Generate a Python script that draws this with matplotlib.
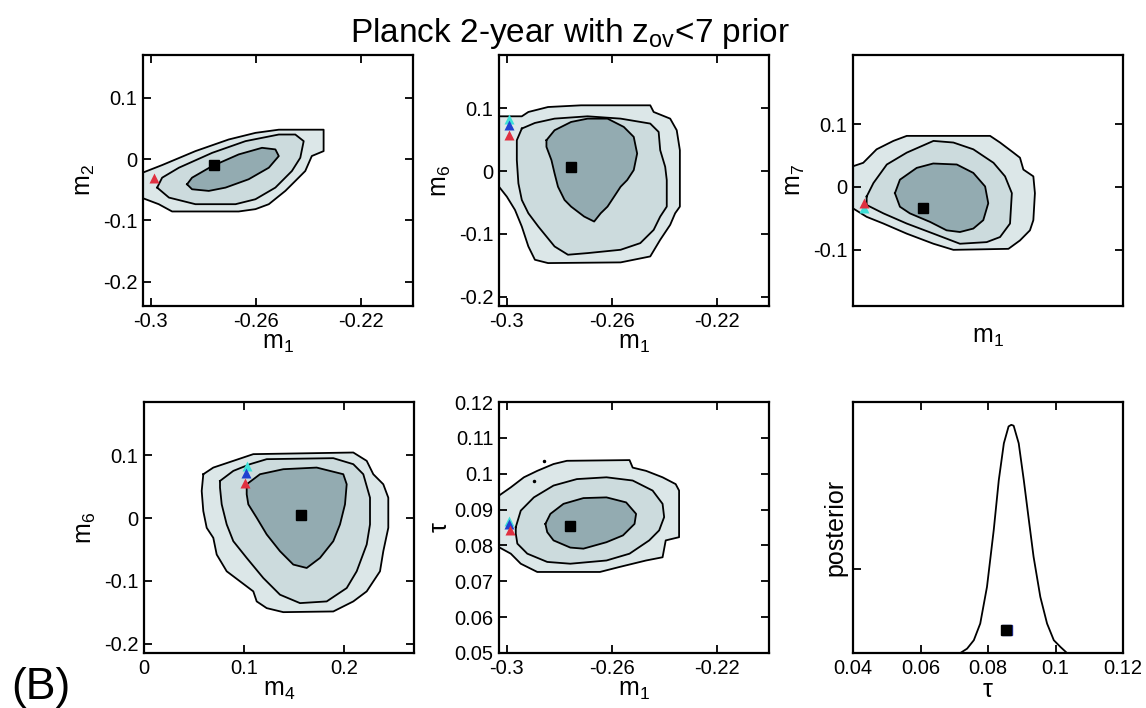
import numpy as np
import matplotlib
matplotlib.use('agg')
import matplotlib.pyplot as plt

plt.rcParams['font.family'] = ['Liberation Sans', 'DejaVu Sans']
plt.rcParams['mathtext.fontset'] = 'custom'
plt.rcParams['mathtext.rm'] = 'Liberation Sans'
plt.rcParams['xtick.labelsize'] = 14.5
plt.rcParams['ytick.labelsize'] = 14.5

# contour outlines (outer / middle / inner), x and y in data units
p1_outer = np.array([
    (-0.303, -0.022), (-0.2957, -0.0098), (-0.283, 0.013), (-0.2703, 0.032),
    (-0.2601, 0.0428), (-0.2512, 0.048), (-0.2341, 0.048), (-0.2341, 0.013),
    (-0.2386, 0.005), (-0.2411, -0.0195), (-0.2449, -0.0358), (-0.2487, -0.052),
    (-0.255, -0.0737), (-0.2601, -0.0818), (-0.2665, -0.0856), (-0.2919, -0.0856),
    (-0.297, -0.0737), (-0.303, -0.064)])
p1_mid = np.array([
    (-0.2976, -0.0466), (-0.2957, -0.0304), (-0.2893, -0.0141), (-0.2766, 0.0102),
    (-0.2639, 0.0293), (-0.2512, 0.0401), (-0.2449, 0.0401), (-0.2417, 0.0293),
    (-0.243, 0.0021), (-0.2462, -0.0195), (-0.2525, -0.0466), (-0.2601, -0.0656),
    (-0.2677, -0.0737), (-0.283, -0.0737), (-0.2931, -0.0629)])
p1_inner = np.array([
    (-0.2862, -0.0412), (-0.2843, -0.0304), (-0.2766, -0.0114), (-0.2665, 0.0076),
    (-0.2576, 0.0184), (-0.2525, 0.0158), (-0.2512, 0.0049), (-0.255, -0.0141),
    (-0.2627, -0.033), (-0.2715, -0.0466), (-0.2779, -0.052), (-0.2843, -0.0493)])

p2_outer = np.array([
    (-0.303, 0.0873), (-0.303, -0.0249), (-0.3, -0.0408), (-0.2969, -0.0619),
    (-0.2943, -0.0884), (-0.2918, -0.1201), (-0.2893, -0.1413), (-0.2843, -0.1466),
    (-0.2566, -0.1455), (-0.2453, -0.136), (-0.2415, -0.1095), (-0.2377, -0.0857),
    (-0.2358, -0.0672), (-0.234, -0.0566), (-0.234, 0.0333), (-0.2352, 0.0651),
    (-0.2377, 0.0836), (-0.244, 0.0942), (-0.2453, 0.1048), (-0.2717, 0.1048),
    (-0.2843, 0.1021), (-0.2918, 0.0942), (-0.2943, 0.0873)])
p2_mid = np.array([
    (-0.2943, 0.0678), (-0.2893, 0.0767), (-0.2818, 0.0836), (-0.2692, 0.0873),
    (-0.2566, 0.0836), (-0.2453, 0.0757), (-0.2421, 0.0624), (-0.2415, 0.0333),
    (-0.2396, 0.0068), (-0.239, -0.0143), (-0.239, -0.0566), (-0.2415, -0.0725),
    (-0.244, -0.0937), (-0.2491, -0.1148), (-0.2566, -0.1254), (-0.2692, -0.1307),
    (-0.2767, -0.1333), (-0.2818, -0.1201), (-0.288, -0.0884), (-0.2918, -0.0672),
    (-0.2943, -0.046), (-0.2956, -0.0196), (-0.2962, 0.0175), (-0.2962, 0.0492)])
p2_inner = np.array([
    (-0.2849, 0.0492), (-0.2818, 0.0651), (-0.2755, 0.0783), (-0.2692, 0.0836),
    (-0.2616, 0.0836), (-0.2554, 0.0704), (-0.2516, 0.0545), (-0.2503, 0.028),
    (-0.2516, 0.0016), (-0.2541, -0.0143), (-0.2566, -0.0249), (-0.2591, -0.0408),
    (-0.2616, -0.0566), (-0.2642, -0.0672), (-0.2667, -0.0804), (-0.2705, -0.0725),
    (-0.2755, -0.0566), (-0.278, -0.046), (-0.2805, -0.0249), (-0.2818, -0.0037),
    (-0.283, 0.0175), (-0.2849, 0.0386)])

p3_outer = np.array([
    (-0.303, 0.0327), (-0.2991, 0.0382), (-0.294, 0.0597), (-0.2876, 0.0731),
    (-0.2825, 0.0811), (-0.2507, 0.0811), (-0.2469, 0.0705), (-0.2418, 0.0544),
    (-0.2393, 0.0463), (-0.238, 0.0274), (-0.2342, 0.0166), (-0.2336, -0.0102),
    (-0.2342, -0.0532), (-0.2355, -0.0694), (-0.2393, -0.0855), (-0.2437, -0.0989),
    (-0.2647, -0.1005), (-0.2723, -0.0908), (-0.2825, -0.0747), (-0.2914, -0.0586),
    (-0.2978, -0.0479), (-0.303, -0.0344)])
p3_mid = np.array([
    (-0.2978, -0.0156), (-0.2952, 0.006), (-0.2901, 0.0355), (-0.2825, 0.0544),
    (-0.2723, 0.0731), (-0.2647, 0.0705), (-0.2571, 0.0597), (-0.2494, 0.0382),
    (-0.245, 0.0166), (-0.2424, -0.0102), (-0.2431, -0.0586), (-0.2469, -0.0801),
    (-0.252, -0.0882), (-0.2622, -0.0908), (-0.2723, -0.0747), (-0.2825, -0.0586),
    (-0.2914, -0.0424), (-0.2978, -0.029)])
p3_inner = np.array([
    (-0.287, -0.0102), (-0.2851, 0.0113), (-0.2787, 0.0301), (-0.2724, 0.0371),
    (-0.2634, 0.0355), (-0.2571, 0.0221), (-0.2526, 0.0005), (-0.2514, -0.0263),
    (-0.2533, -0.0532), (-0.2571, -0.0666), (-0.2622, -0.0721), (-0.2673, -0.0694),
    (-0.2736, -0.056), (-0.2813, -0.0424), (-0.2851, -0.0318)])

p4_outer = np.array([
    (0.0593, 0.0699), (0.0693, 0.0805), (0.0893, 0.0912), (0.1093, 0.1019),
    (0.2093, 0.1045), (0.2227, 0.0912), (0.2293, 0.0699), (0.2393, 0.0539),
    (0.2443, 0.0325), (0.2443, -0.0155), (0.2393, -0.0528), (0.236, -0.0848),
    (0.2227, -0.1168), (0.2093, -0.1328), (0.1893, -0.1488), (0.1393, -0.1499),
    (0.1227, -0.1435), (0.1127, -0.1328), (0.1093, -0.1168), (0.096, -0.1008),
    (0.0827, -0.0848), (0.0727, -0.0581), (0.0693, -0.0315), (0.0627, -0.0155),
    (0.0593, 0.0112), (0.0577, 0.0432)])
p4_mid = np.array([
    (0.076, 0.0592), (0.0893, 0.0752), (0.106, 0.0859), (0.1227, 0.0939),
    (0.1893, 0.0955), (0.2093, 0.0859), (0.2193, 0.0699), (0.226, 0.0325),
    (0.226, -0.0101), (0.2227, -0.0421), (0.2127, -0.0848), (0.2027, -0.1115),
    (0.1827, -0.1328), (0.156, -0.1355), (0.136, -0.1221), (0.1193, -0.0955),
    (0.1027, -0.0635), (0.0893, -0.0368), (0.0827, -0.0101), (0.0777, 0.0219),
    (0.076, 0.0485)])
p4_inner = np.array([
    (0.1027, 0.0539), (0.116, 0.0699), (0.1393, 0.0779), (0.1727, 0.0805),
    (0.1993, 0.0699), (0.2027, 0.0539), (0.201, 0.0219), (0.196, -0.0101),
    (0.1893, -0.0368), (0.176, -0.0635), (0.1627, -0.0795), (0.1493, -0.0741),
    (0.136, -0.0528), (0.1227, -0.0261), (0.1127, 0.0005), (0.1043, 0.0219),
    (0.1027, 0.0379)])

p5_outer = np.array([
    (-0.303, 0.0939), (-0.2985, 0.0962), (-0.2935, 0.099), (-0.2884, 0.1008),
    (-0.2822, 0.1027), (-0.2771, 0.1036), (-0.2532, 0.1038), (-0.252, 0.1017),
    (-0.2469, 0.1008), (-0.2406, 0.099), (-0.2356, 0.0971), (-0.2343, 0.0953),
    (-0.2343, 0.0823), (-0.2394, 0.0814), (-0.2406, 0.0767), (-0.2469, 0.0758),
    (-0.257, 0.074), (-0.2645, 0.0726), (-0.2884, 0.0726), (-0.2947, 0.0749),
    (-0.2985, 0.0777), (-0.303, 0.0795)])
p5_mid = np.array([
    (-0.2966, 0.0851), (-0.2947, 0.0897), (-0.2897, 0.0934), (-0.2822, 0.0967),
    (-0.2733, 0.0985), (-0.262, 0.099), (-0.252, 0.0981), (-0.2444, 0.0953),
    (-0.2406, 0.0916), (-0.24, 0.0879), (-0.2419, 0.0842), (-0.2457, 0.0814),
    (-0.2532, 0.0777), (-0.262, 0.0758), (-0.2758, 0.0749), (-0.2846, 0.0754),
    (-0.2922, 0.0777), (-0.296, 0.0805), (-0.2966, 0.0833)])
p5_inner = np.array([
    (-0.2853, 0.086), (-0.2834, 0.0888), (-0.2784, 0.0916), (-0.2708, 0.0932),
    (-0.262, 0.0934), (-0.2545, 0.092), (-0.2507, 0.0888), (-0.2513, 0.086),
    (-0.2557, 0.0828), (-0.262, 0.0809), (-0.2708, 0.0791), (-0.2758, 0.0794),
    (-0.2822, 0.0814), (-0.2846, 0.0837)])
p5_specks_x = [-0.2859, -0.2897]
p5_specks_y = [0.1036, 0.0981]

# best-fit points (black squares) and the three triangle models per panel
best_x = [-0.276, -0.2757, -0.2762, 0.157, -0.2758]
best_y = [-0.010, 0.006, -0.034, 0.005, 0.0853]
tri_red = [(-0.2989, -0.031), (-0.2991, 0.057), (-0.2988, -0.0253), (0.101, 0.0565), (-0.2988, 0.0844)]
tri_blue = [None, (-0.2991, 0.073), None, (0.102, 0.0725), (-0.2991, 0.086)]
tri_cyan = [None, (-0.2991, 0.0836), (-0.2988, -0.034), (0.1027, 0.0832), (-0.2991, 0.0869)]

# 1-D posterior of tau
tau = [0.0718, 0.0738, 0.0758, 0.0777, 0.0797, 0.0817, 0.0832, 0.0847, 0.0861,
       0.0869, 0.0876, 0.0891, 0.0906, 0.0921, 0.0935, 0.0955, 0.0975, 0.0995,
       0.1015, 0.1034]
post = [0.0, 0.019, 0.056, 0.129, 0.29, 0.539, 0.758, 0.919, 0.993, 1.0, 0.996,
        0.919, 0.758, 0.583, 0.422, 0.246, 0.129, 0.056, 0.026, 0.0]
tau_best = 0.0852
post_best = 0.10

m1_ticks = [-0.3, -0.26, -0.22]
m1_labels = ['-0.3', '-0.26', '-0.22']
m_ticks = [0.1, 0.0, -0.1, -0.2]
m_labels = ['0.1', '0', '-0.1', '-0.2']
m4_ticks = [0.0, 0.1, 0.2]
m4_labels = ['0', '0.1', '0.2']
tau_ticks = [0.05, 0.06, 0.07, 0.08, 0.09, 0.10, 0.11, 0.12]
tau_labels = ['0.05', '0.06', '0.07', '0.08', '0.09', '0.1', '0.11', '0.12']
tau_x_ticks = [0.04, 0.06, 0.08, 0.10, 0.12]
tau_x_labels = ['0.04', '0.06', '0.08', '0.1', '0.12']

C_OUT = '#dce7e8'
C_MID = '#ccdbdd'
C_IN = '#93abb1'

W, H = 1146, 708
fig = plt.figure(figsize=(W / 100, H / 100), dpi=100)


def new_axes(left_px, top_px, w_px=270, h_px=251):
    return fig.add_axes([left_px / W, 1 - (top_px + h_px) / H, w_px / W, h_px / H])


def style(ax, xlim, ylim):
    ax.set_xlim(*xlim)
    ax.set_ylim(*ylim)
    ax.tick_params(direction='in', top=True, right=True, length=6, width=1.3, pad=4)
    for s in ax.spines.values():
        s.set_linewidth(1.6)
        s.set_zorder(10)


def draw_contours(ax, outer, mid, inner):
    for poly, col in ((outer, C_OUT), (mid, C_MID), (inner, C_IN)):
        ax.fill(poly[:, 0], poly[:, 1], color=col, lw=0, zorder=1)
        closed = np.vstack([poly, poly[:1]])
        ax.plot(closed[:, 0], closed[:, 1], color='k', lw=1.3, zorder=2)


def draw_points(ax, i):
    for pts, col in ((tri_cyan, '#3fe0d8'), (tri_blue, '#2040d0'), (tri_red, '#e03040')):
        if pts[i] is not None:
            ax.plot(pts[i][0], pts[i][1], '^', color=col, ms=7, mec='none', zorder=4)
    ax.plot(best_x[i], best_y[i], 's', color='k', ms=7, zorder=5)


m1_lim = (-0.303, -0.2)
lab = dict(fontsize=18)

# m1 - m2
ax1 = new_axes(143, 55)
draw_contours(ax1, p1_outer, p1_mid, p1_inner)
draw_points(ax1, 0)
style(ax1, m1_lim, (-0.24, 0.17))
ax1.set_xticks(m1_ticks, m1_labels)
ax1.set_yticks(m_ticks, m_labels)
ax1.set_xlabel(r'$\mathregular{m_1}$', labelpad=0, **lab)
ax1.set_ylabel(r'$\mathregular{m_2}$', **lab)

# m1 - m6
ax2 = new_axes(499, 55)
draw_contours(ax2, p2_outer, p2_mid, p2_inner)
draw_points(ax2, 1)
style(ax2, m1_lim, (-0.215, 0.185))
ax2.set_xticks(m1_ticks, m1_labels)
ax2.set_yticks(m_ticks, m_labels)
ax2.set_xlabel(r'$\mathregular{m_1}$', labelpad=0, **lab)
ax2.set_ylabel(r'$\mathregular{m_6}$', **lab)

# m1 - m7
ax3 = new_axes(853, 55)
draw_contours(ax3, p3_outer, p3_mid, p3_inner)
draw_points(ax3, 2)
style(ax3, m1_lim, (-0.19, 0.21))
ax3.set_xticks([])
ax3.set_yticks(m_ticks[:3], m_labels[:3])
ax3.set_xlabel(r'$\mathregular{m_1}$', labelpad=14, **lab)
ax3.set_ylabel(r'$\mathregular{m_7}$', **lab)

# m4 - m6
ax4 = new_axes(144, 402)
draw_contours(ax4, p4_outer, p4_mid, p4_inner)
draw_points(ax4, 3)
style(ax4, (0.0, 0.27), (-0.215, 0.185))
ax4.set_xticks(m4_ticks, m4_labels)
ax4.set_yticks(m_ticks, m_labels)
ax4.set_xlabel(r'$\mathregular{m_4}$', labelpad=0, **lab)
ax4.set_ylabel(r'$\mathregular{m_6}$', **lab)

# m1 - tau
ax5 = new_axes(499, 402)
draw_contours(ax5, p5_outer, p5_mid, p5_inner)
ax5.plot(p5_specks_x, p5_specks_y, 'o', color='k', ms=1.5, zorder=3)
draw_points(ax5, 4)
style(ax5, m1_lim, (0.05, 0.12))
ax5.set_xticks(m1_ticks, m1_labels)
ax5.set_yticks(tau_ticks, tau_labels)
ax5.set_xlabel(r'$\mathregular{m_1}$', labelpad=0, **lab)
ax5.set_ylabel('τ', labelpad=2, **lab)

# posterior of tau
ax6 = new_axes(853, 402)
ax6.plot(tau, post, color='k', lw=1.3)
ax6.plot(tau_best + 0.0004, post_best, 's', color='#2030a0', ms=7, zorder=4)
ax6.plot(tau_best, post_best, 's', color='k', ms=7, zorder=5)
style(ax6, (0.04, 0.12), (0.0, 1.1))
ax6.tick_params(right=False)
ax6.set_xticks(tau_x_ticks, tau_x_labels)
ax6.set_yticks([0.366], [''])
ax6.set_xlabel('τ', labelpad=0, **lab)
ax6.set_ylabel('posterior', labelpad=0, **lab)

fig.text(0.497, 0.928, r'Planck 2-year with $\mathregular{z_{ov}}$<7 prior',
         fontsize=24, ha='center', va='bottom')
fig.text(0.01, 0.0, '(B)', fontsize=32, ha='left', va='bottom')

fig.savefig('out.png', dpi=100, facecolor='white')
